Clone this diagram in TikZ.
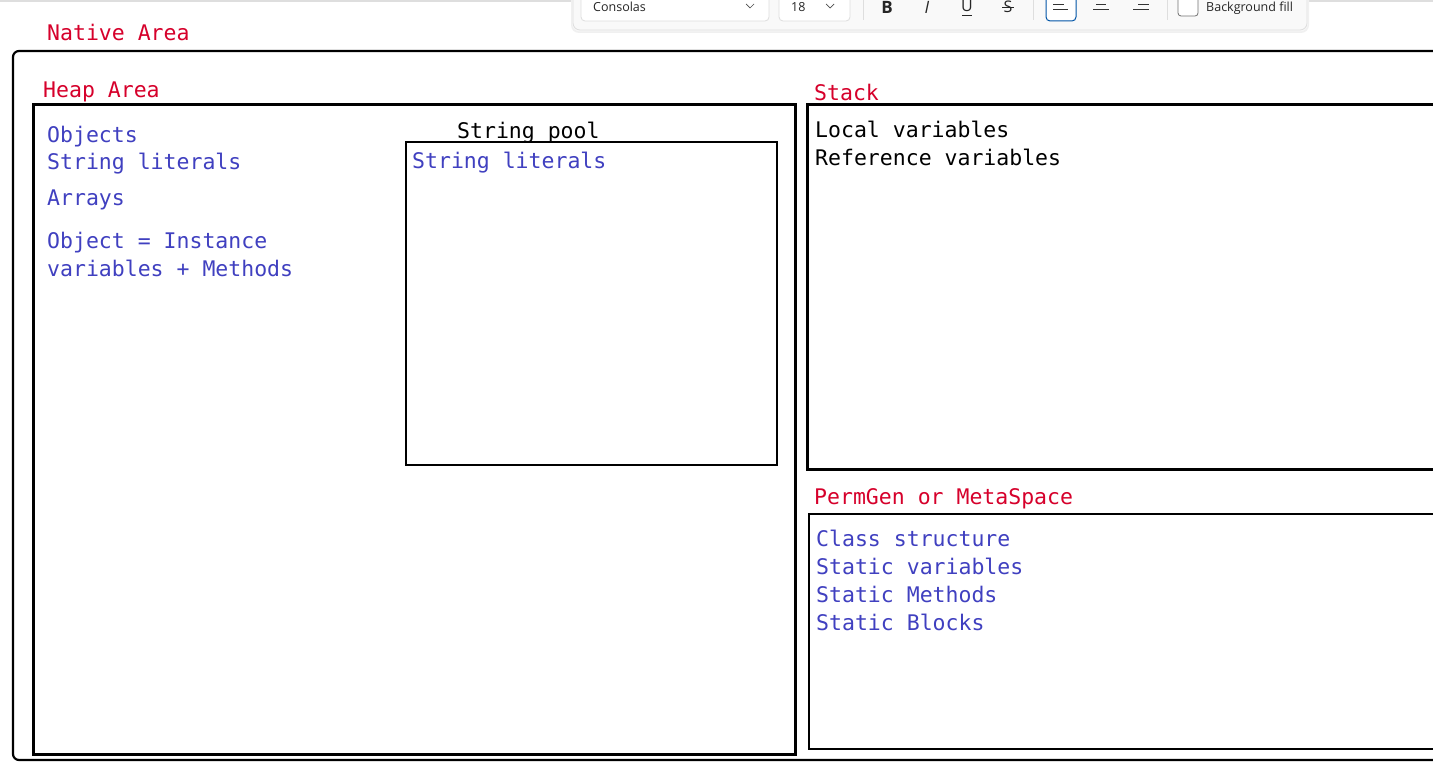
\documentclass[tikz,border=0pt]{standalone}
\usepackage{fontspec}
\newfontfamily\codefont{DejaVu Sans Mono}
\newfontfamily\uifont{Open Sans}
\definecolor{redlab}{RGB}{214,0,43}
\definecolor{bluetxt}{RGB}{64,64,192}
\definecolor{tbfill}{RGB}{249,249,249}
\definecolor{tbline}{RGB}{222,222,222}
\definecolor{selblue}{RGB}{0,84,166}
\begin{document}
\begin{tikzpicture}[x=1pt,y=-1pt,
  code/.style={anchor=base west, inner sep=0pt, font=\codefont\fontsize{21.5}{26}\selectfont},
  redtxt/.style={code, text=redlab},
  bluet/.style={code, text=bluetxt},
  blackt/.style={code, text=black},
  ui/.style={anchor=base west, inner sep=0pt, font=\uifont\fontsize{12.5}{15}\selectfont, text=black!85},
  uiicon/.style={anchor=base, inner sep=0pt, font=\uifont\fontsize{16}{18}\selectfont, text=black!85}]
\useasboundingbox (0,0) rectangle (1433,762);
\clip (0,0) rectangle (1433,762);
\fill[white] (0,0) rectangle (1433,762);
% top grey line
\draw[tbline, line width=1.2pt] (0,1) -- (1433,1);

% outer native area box
\draw[line width=2.2pt, rounded corners=6pt] (1445,51) -- (13,51) -- (13,760) -- (1445,760);
\node[redtxt] (native) at (47,40.5) {Native Area};

% heap
\node[redtxt] (heaplab) at (43,97.5) {Heap Area};
\draw[line width=3pt] (33,105) rectangle (795,754);
\node[bluet] (h1) at (47,142.5) {Objects};
\node[bluet] (h2) at (47,169.5) {String literals};
\node[bluet] (h3) at (47,205.5) {Arrays};
\node[bluet] (h4) at (47,248.5) {Object = Instance};
\node[bluet] (h5) at (47,276.5) {variables + Methods};

% string pool
\node[blackt] (poollab) at (457,138.5) {String pool};
\draw[line width=2.2pt] (406,142) rectangle (777,465);
\node[bluet] (p1) at (412,168.5) {String literals};

% stack
\node[redtxt] (stacklab) at (814,100.5) {Stack};
\draw[line width=3pt] (807,105) rectangle (1450,469);
\node[blackt] (s1) at (815,137.5) {Local variables};
\node[blackt] (s2) at (815,165.5) {Reference variables};

% permgen
\node[redtxt] (permlab) at (814,504.5) {PermGen or MetaSpace};
\draw[line width=2.5pt] (809,514) rectangle (1450,749);
\node[bluet] (m1) at (816,546) {Class structure};
\node[bluet] (m2) at (816,574) {Static variables};
\node[bluet] (m3) at (816,602) {Static Methods};
\node[bluet] (m4) at (816,630) {Static Blocks};

% toolbar
\fill[black!6, rounded corners=8pt] (571,-12) rectangle (1309,33);
\fill[black!3, rounded corners=8pt] (572,-12) rectangle (1308,31.5);
\filldraw[fill=tbfill, draw=tbline, line width=0.8pt, rounded corners=7pt] (573,-12) rectangle (1307,30);
\filldraw[fill=white, draw=tbline, line width=0.8pt, rounded corners=4pt] (581,-10) rectangle (769,21);
\node[ui] (tfont) at (593,12) {Consolas};
\draw[black!70, line width=0.7pt] (746,4) -- (750,8) -- (754,4);
\filldraw[fill=white, draw=tbline, line width=0.8pt, rounded corners=4pt] (779,-10) rectangle (850,21);
\node[ui] (tsize) at (791,12) {18};
\draw[black!70, line width=0.7pt] (826,4) -- (830,8) -- (834,4);
\draw[tbline, line width=0.8pt] (863,-5) -- (863,20);
\node[uiicon, font=\uifont\bfseries\fontsize{17}{18}\selectfont] (tb) at (887,14) {B};
\node[uiicon, font=\uifont\itshape\fontsize{17}{18}\selectfont] (ti) at (927,14) {I};
\node[uiicon] (tu) at (967,12) {U};
\draw[black!85, line width=0.7pt] (962,15.5) -- (972,15.5);
\node[uiicon] (ts) at (1008,13) {S};
\draw[black!85, line width=0.7pt] (1002,7) -- (1014,7);
\draw[tbline, line width=0.8pt] (1033,-5) -- (1033,20);
\filldraw[fill=white, draw=selblue, line width=1pt, rounded corners=4pt] (1046,-8) rectangle (1076,21);
\draw[black!80, line width=1pt] (1053,0) -- (1068,0) (1053,5) -- (1064,5) (1053,10) -- (1068,10);
\draw[black!80, line width=1pt] (1093,0) -- (1109,0) (1096,5) -- (1106,5) (1093,10) -- (1109,10);
\draw[black!80, line width=1pt] (1133,0) -- (1149,0) (1138,5) -- (1149,5) (1133,10) -- (1149,10);
\draw[tbline, line width=0.8pt] (1167,-5) -- (1167,20);
\filldraw[fill=white, draw=black!55, line width=0.8pt, rounded corners=3pt] (1178,-4) rectangle (1198,16);
\node[ui] (tbg) at (1206,12) {Background fill};
\end{tikzpicture}
\end{document}
